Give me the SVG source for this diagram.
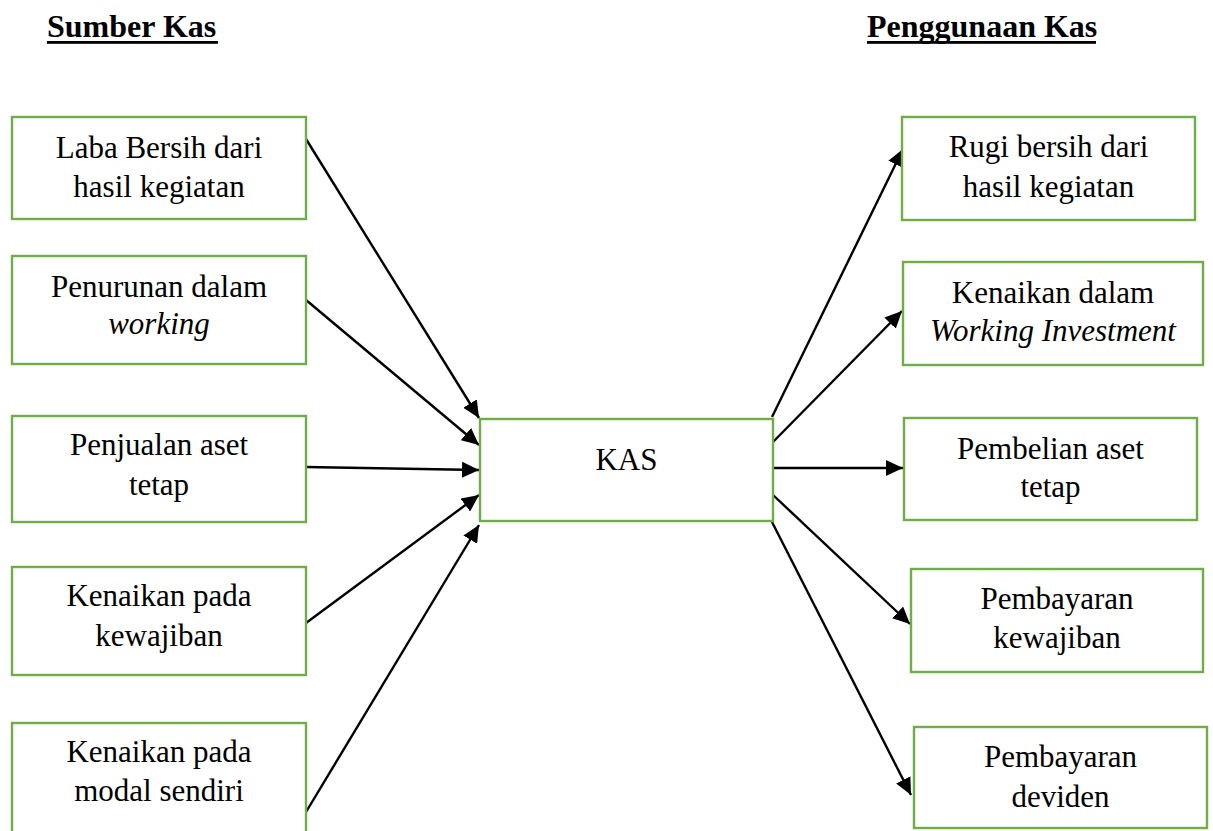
<svg xmlns="http://www.w3.org/2000/svg" width="1213" height="831" viewBox="0 0 1213 831">
<defs>
<style>
.box{fill:#fff;stroke:#70AD47;stroke-width:2.4}
.t{font-family:'Liberation Serif','Times New Roman',Times,serif;font-size:31px;fill:#000;text-anchor:middle}
.i{font-style:italic}
.h{font-family:'Liberation Serif','Times New Roman',Times,serif;font-size:32px;font-weight:bold;fill:#000}
.c{stroke:#000;stroke-width:2.4;fill:none;marker-end:url(#ah)}
</style>
<marker id="ah" markerUnits="userSpaceOnUse" markerWidth="18" markerHeight="16" refX="17" refY="8" orient="auto">
<path d="M0,0 L17,8 L0,16 z" fill="#000"/>
</marker>
</defs>
<rect width="1213" height="831" fill="#fff"/>

<g id="title-sumber">
<text class="h" x="47" y="37">Sumber Kas</text>
<rect x="47" y="41" width="171" height="2.8" fill="#000"/>
</g>
<g id="title-penggunaan">
<text class="h" x="867" y="37">Penggunaan Kas</text>
<rect x="867" y="41" width="229" height="2.8" fill="#000"/>
</g>

<g id="connectors">
<line class="c" x1="306" y1="139" x2="479" y2="418"/>
<line class="c" x1="306" y1="300" x2="479" y2="445"/>
<line class="c" x1="306" y1="467" x2="479" y2="470"/>
<line class="c" x1="306" y1="623" x2="479" y2="495"/>
<line class="c" x1="306" y1="812" x2="479" y2="525"/>
<line class="c" x1="772" y1="417" x2="903" y2="149"/>
<line class="c" x1="772" y1="443" x2="902" y2="311"/>
<line class="c" x1="773" y1="468" x2="903" y2="468"/>
<line class="c" x1="773" y1="495" x2="910" y2="624"/>
<line class="c" x1="772" y1="522" x2="911" y2="795"/>
</g>

<g id="laba-bersih">
<rect class="box" x="12" y="117" width="294" height="102"/>
<text class="t" x="159" y="158">Laba Bersih dari</text>
<text class="t" x="159" y="197">hasil kegiatan</text>
</g>
<g id="penurunan-working">
<rect class="box" x="12" y="256" width="294" height="108"/>
<text class="t" x="159" y="297">Penurunan dalam</text>
<text class="t i" x="159" y="334">working</text>
</g>
<g id="penjualan-aset">
<rect class="box" x="12" y="416" width="294" height="106"/>
<text class="t" x="159" y="455">Penjualan aset</text>
<text class="t" x="159" y="495">tetap</text>
</g>
<g id="kenaikan-kewajiban">
<rect class="box" x="12" y="567" width="294" height="108"/>
<text class="t" x="159" y="606">Kenaikan pada</text>
<text class="t" x="159" y="646">kewajiban</text>
</g>
<g id="kenaikan-modal">
<rect class="box" x="12" y="723" width="294" height="130"/>
<text class="t" x="159" y="762">Kenaikan pada</text>
<text class="t" x="159" y="801">modal sendiri</text>
</g>

<g id="kas">
<rect class="box" x="480" y="419" width="293" height="102"/>
<text class="t" x="626.5" y="470">KAS</text>
</g>

<g id="rugi-bersih">
<rect class="box" x="902" y="117" width="293" height="103"/>
<text class="t" x="1048.5" y="157">Rugi bersih dari</text>
<text class="t" x="1048.5" y="197">hasil kegiatan</text>
</g>
<g id="kenaikan-working">
<rect class="box" x="903" y="262" width="300" height="103"/>
<text class="t" x="1053" y="303">Kenaikan dalam</text>
<text class="t i" x="1053" y="341">Working Investment</text>
</g>
<g id="pembelian-aset">
<rect class="box" x="904" y="418" width="293" height="102"/>
<text class="t" x="1050.5" y="459">Pembelian aset</text>
<text class="t" x="1050.5" y="497">tetap</text>
</g>
<g id="pembayaran-kewajiban">
<rect class="box" x="911" y="569" width="292" height="103"/>
<text class="t" x="1057" y="609">Pembayaran</text>
<text class="t" x="1057" y="648">kewajiban</text>
</g>
<g id="pembayaran-deviden">
<rect class="box" x="914" y="727" width="293" height="101"/>
<text class="t" x="1060.5" y="767">Pembayaran</text>
<text class="t" x="1060.5" y="807">deviden</text>
</g>
</svg>
